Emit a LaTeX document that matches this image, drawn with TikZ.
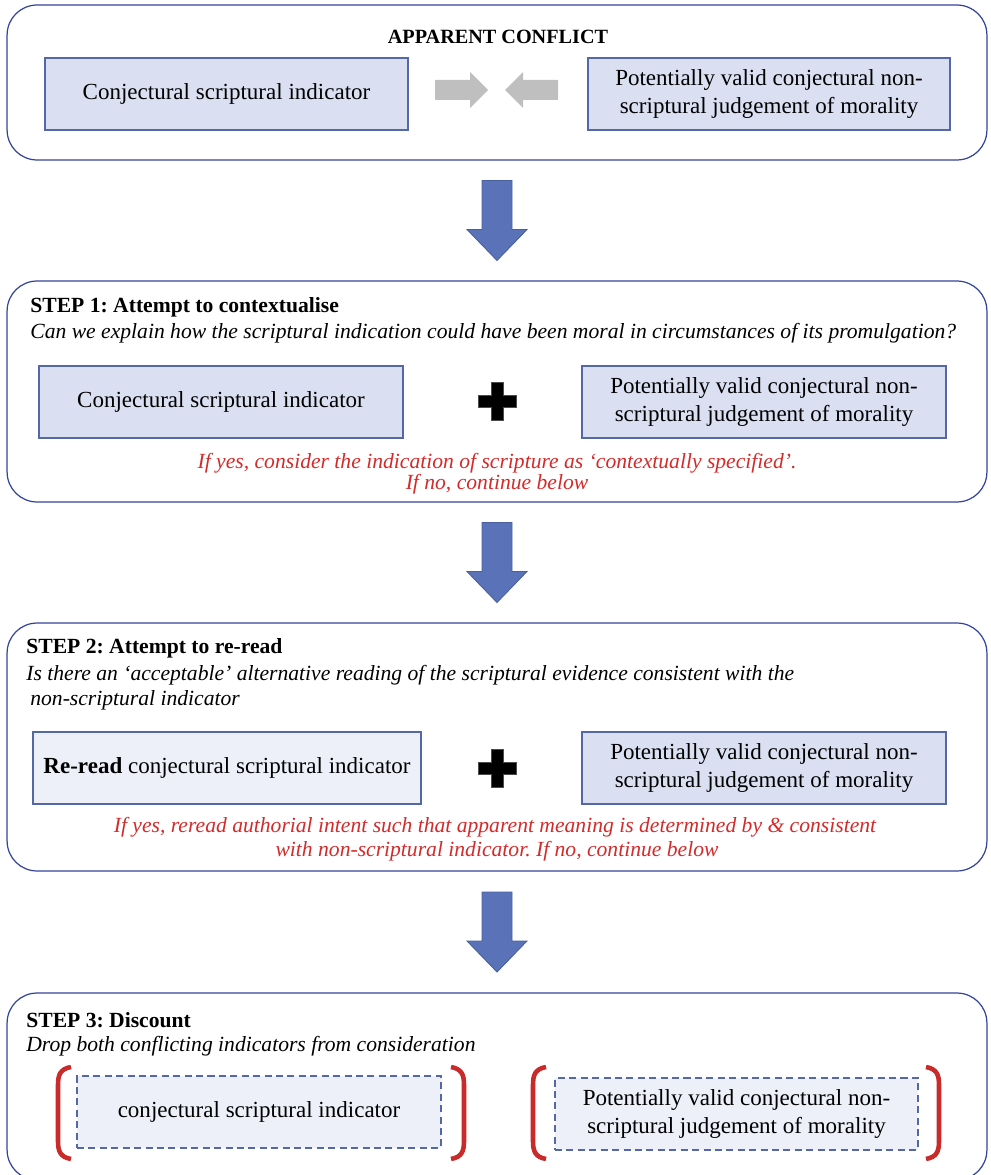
\documentclass[tikz,border=0pt]{standalone}
\usepackage{fontspec}
\setmainfont{Liberation Serif}
\usetikzlibrary{arrows}

\definecolor{framec}{HTML}{34449A}
\definecolor{boxfill}{HTML}{DAE0F2}
\definecolor{boxline}{HTML}{5468A8}
\definecolor{palefill}{HTML}{EDF0F8}
\definecolor{arrowblue}{HTML}{5A72B8}
\definecolor{arrowline}{HTML}{4A5F9F}
\definecolor{redtext}{HTML}{D42A2A}
\definecolor{brackred}{HTML}{C92A2A}

\tikzset{
  panel/.style={draw=framec, line width=0.7pt, rounded corners=0.6cm, minimum width=19.6cm, inner sep=0pt},
  cbox/.style={draw=boxline, fill=boxfill, line width=0.7pt, minimum height=1.44cm, align=center, inner sep=0pt, font=\fontsize{13.1}{15.4}\selectfont},
  lbox/.style={cbox, fill=palefill},
  dbox/.style={lbox, dash pattern=on 4pt off 2.5pt},
  bigarrow/.style={fill=arrowblue, draw=arrowline, line width=0.5pt},
  greyarrow/.style={fill=black!25},
  redtxt/.style={text=redtext, font=\itshape, inner sep=0pt},
  headtxt/.style={anchor=west, inner sep=0pt, font=\bfseries},
  questtxt/.style={anchor=west, inner sep=0pt, font=\itshape},
  brack/.style={draw=brackred, line width=2.6pt}
}

\begin{document}
\frenchspacing
\fontsize{12.3}{14.6}\selectfont
\begin{tikzpicture}[x=0.02cm, y=-0.02cm]
  \useasboundingbox (0,0) rectangle (990,1175);

  % apparent conflict
  \node[panel, minimum height=3.1cm] (conflict) at (497,82.5) {};
  \node[font=\fontsize{11.5}{14}\selectfont\bfseries, inner sep=0pt] (conflicttitle) at (498,37) {APPARENT CONFLICT};
  \node[cbox, minimum width=7.26cm] (conflictL) at (226.5,94) {Conjectural scriptural indicator};
  \node[cbox, minimum width=7.24cm] (conflictR) at (769,94) {Potentially valid conjectural non-\\scriptural judgement of morality};
  \fill[greyarrow] (435,80) -- (470,80) -- (470,72) -- (488,90) -- (470,108) -- (470,100) -- (435,100) -- cycle;
  \fill[greyarrow] (558,80) -- (523,80) -- (523,72) -- (505,90) -- (523,108) -- (523,100) -- (558,100) -- cycle;

  % step 1
  \node[panel, minimum height=4.42cm] (stepone) at (497,391.5) {};
  \node[headtxt] (onehead) at (30,307) {STEP 1: Attempt to contextualise};
  \node[questtxt] (onequest) at (30,333) {Can we explain how the scriptural indication could have been moral in circumstances of its promulgation?};
  \node[cbox, minimum width=7.28cm] (oneL) at (221,402) {Conjectural scriptural indicator};
  \node[cbox, minimum width=7.28cm] (oneR) at (764,402) {Potentially valid conjectural non-\\scriptural judgement of morality};
  \node[redtxt] (oneyes) at (497,463) {If yes, consider the indication of scripture as ‘contextually specified’.};
  \node[redtxt] (oneno) at (497,484) {If no, continue below};

  % step 2
  \node[panel, minimum height=4.96cm] (steptwo) at (497,747) {};
  \node[headtxt] (twohead) at (26,648) {STEP 2: Attempt to re-read};
  \node[questtxt] (twoquest) at (26,675) {Is there an ‘acceptable’ alternative reading of the scriptural evidence consistent with the};
  \node[questtxt] (twoquestb) at (30,700) {non-scriptural indicator};
  \node[lbox, minimum width=7.76cm] (twoL) at (227,768) {\textbf{Re-read} conjectural scriptural indicator};
  \node[cbox, minimum width=7.28cm] (twoR) at (764,768) {Potentially valid conjectural non-\\scriptural judgement of morality};
  \node[redtxt] (twoyes) at (495,827) {If yes, reread authorial intent such that apparent meaning is determined by \& consistent};
  \node[redtxt] (twono) at (497,851) {with non-scriptural indicator. If no, continue below};

  % step 3
  \begin{scope}
    \clip (0,0) rectangle (990,1175);
    \node[panel, minimum height=3.74cm] (stepthree) at (497,1086.5) {};
  \end{scope}
  \node[headtxt] (threehead) at (26,1020) {STEP 3: Discount};
  \node[questtxt] (threequest) at (26,1046) {Drop both conflicting indicators from consideration};
  \node[dbox, minimum width=7.28cm] (threeL) at (259,1112) {conjectural scriptural indicator};
  \node[dbox, minimum width=7.26cm] (threeR) at (736.5,1114) {Potentially valid conjectural non-\\scriptural judgement of morality};
  \foreach \x/\s in {58/1, 464/-1, 533/1, 939/-1}
    \draw[brack] (\x+13*\s,1067) .. controls (\x+2*\s,1069) and (\x,1075) .. (\x,1085) -- (\x,1141) .. controls (\x,1151) and (\x+2*\s,1157) .. (\x+13*\s,1159);

  % plus signs
  \foreach \y in {401,768}
    \fill[draw=black!70, line width=0.4pt] (491,\y-19) -- (503,\y-19) -- (503,\y-6) -- (516,\y-6) -- (516,\y+6) -- (503,\y+6) -- (503,\y+19) -- (491,\y+19) -- (491,\y+6) -- (478,\y+6) -- (478,\y-6) -- (491,\y-6) -- cycle;

  % arrows between the steps
  \foreach \a/\b/\m in {conflict/stepone/arrowA, stepone/steptwo/arrowB, steptwo/stepthree/arrowC} {
    \path (\a.south) -- (\b.north) coordinate[pos=0.5] (\m);
    \filldraw[bigarrow] (\m) ++(-15,-40) -- ++(30,0) -- ++(0,49) -- ++(15,0) -- ++(-30,31) -- ++(-30,-31) -- ++(15,0) -- cycle;
  }
\end{tikzpicture}
\end{document}
